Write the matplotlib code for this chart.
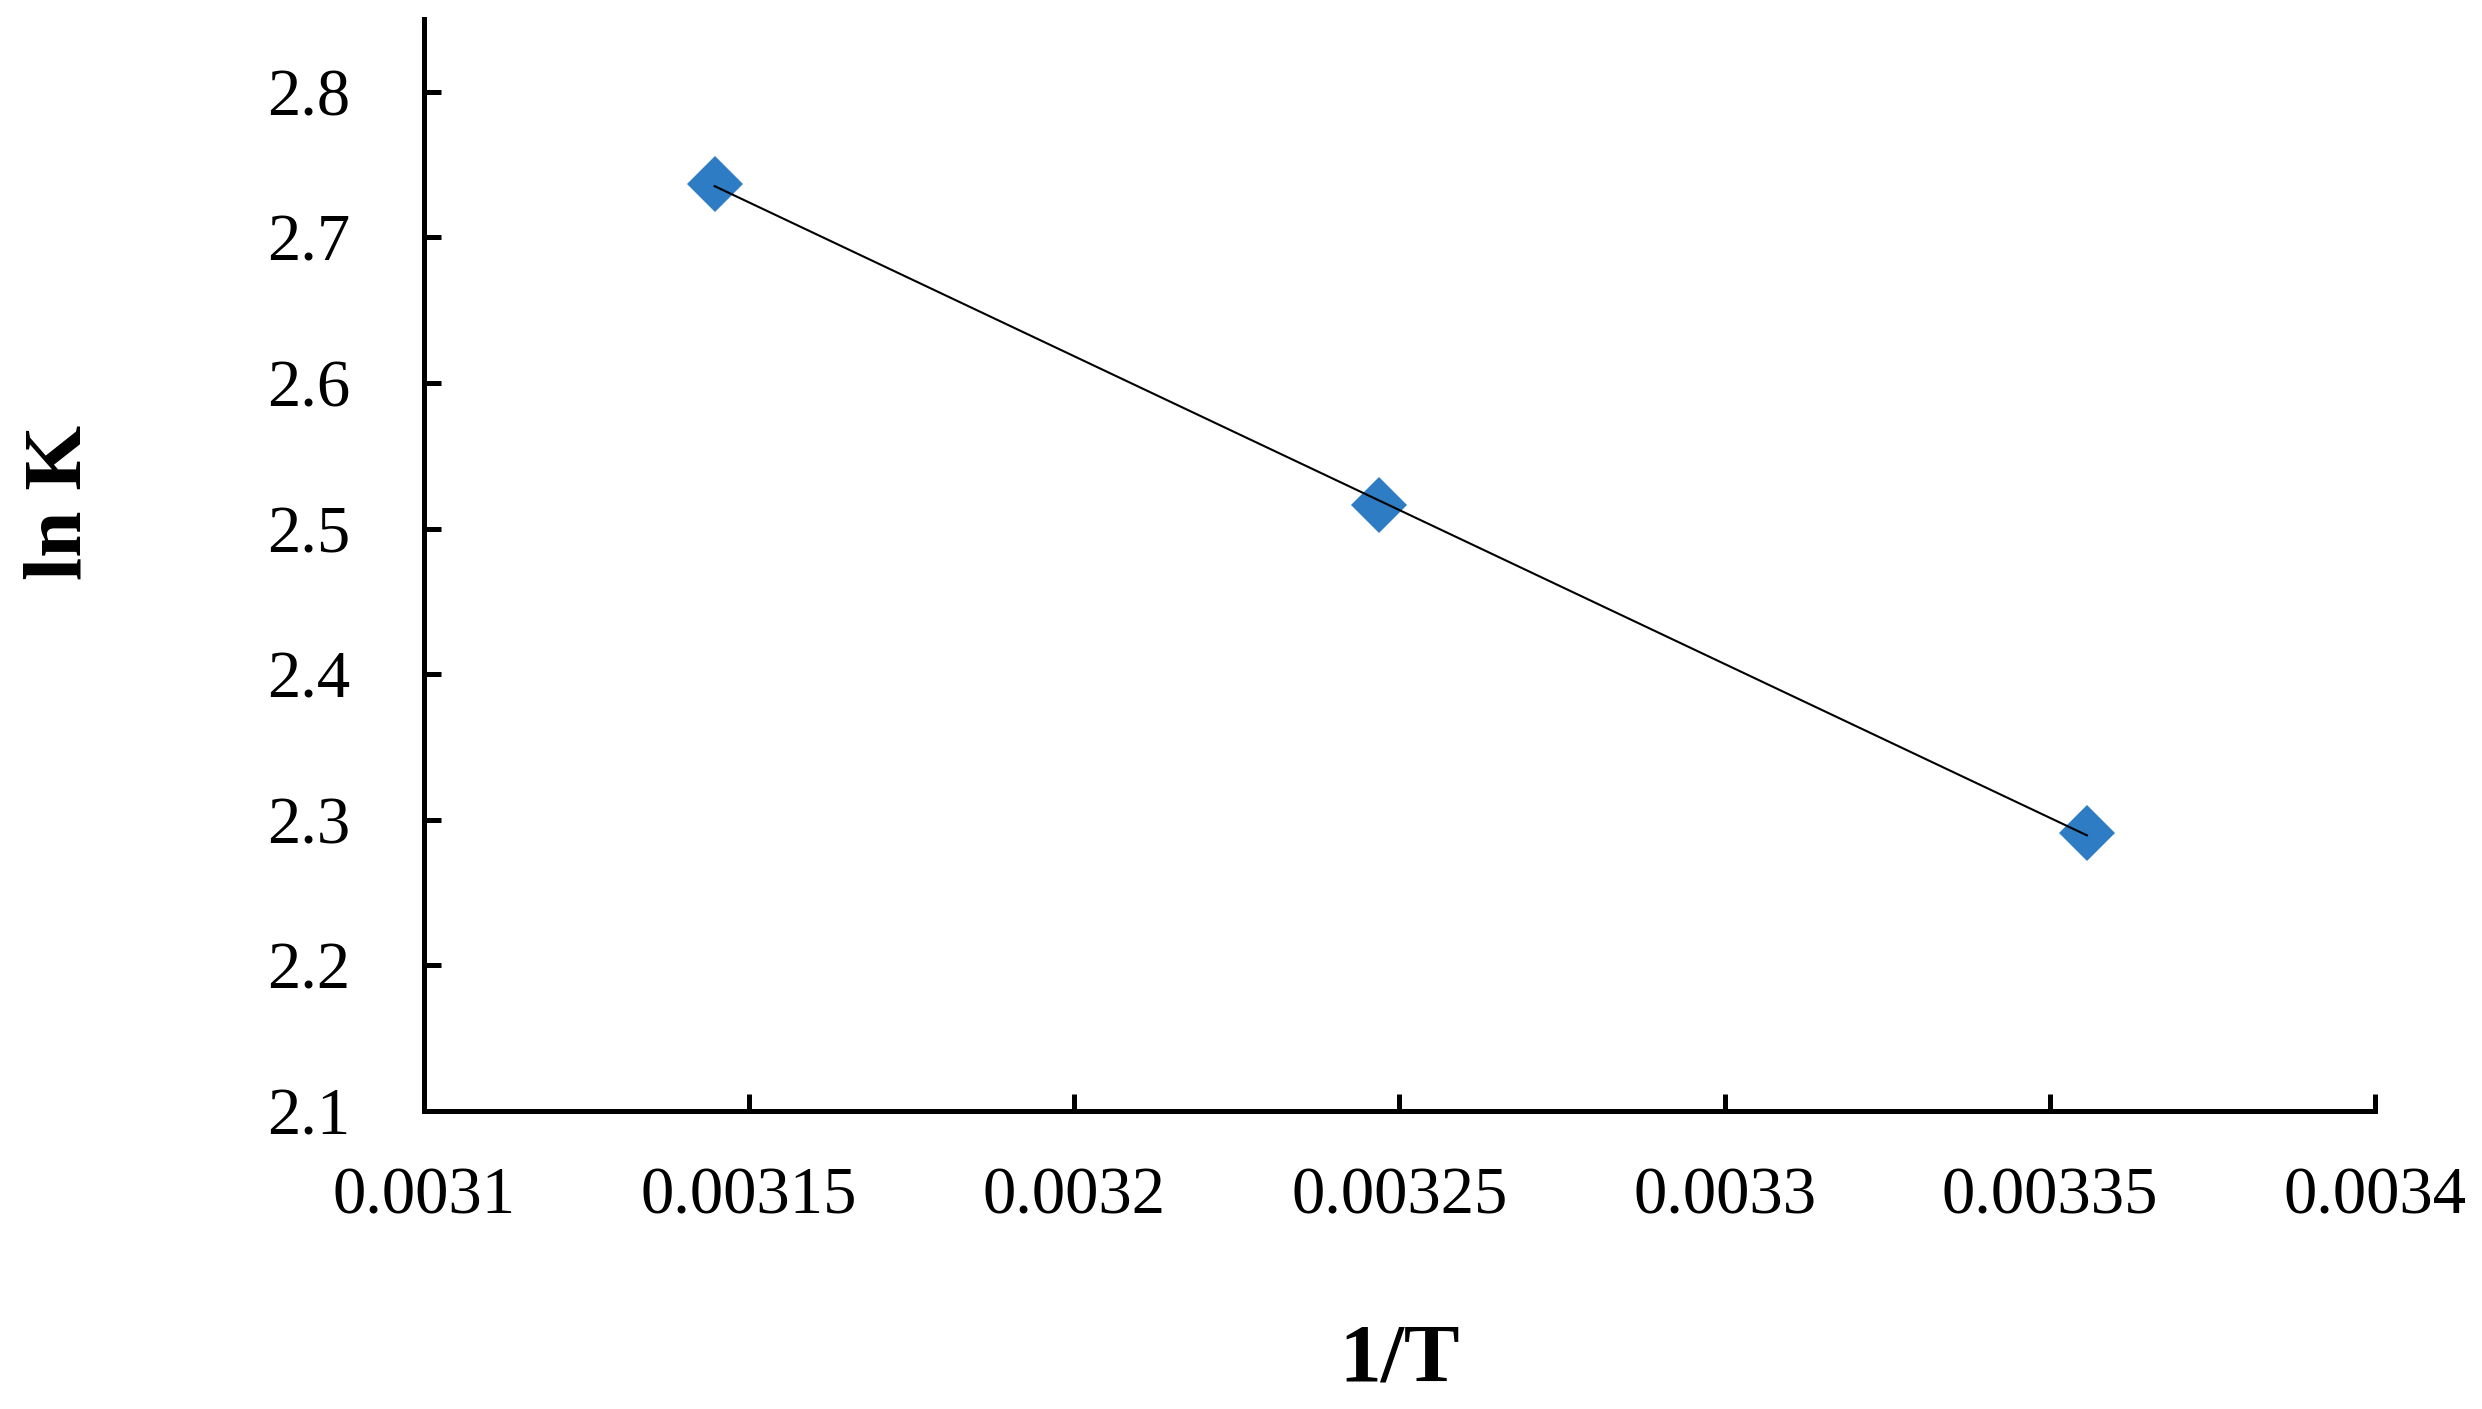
import numpy as np
import matplotlib
matplotlib.use('Agg')
import matplotlib.pyplot as plt
from matplotlib.ticker import FuncFormatter

# data
inv_T = [0.0031447, 0.0032468, 0.0033557]
ln_K = [2.737, 2.516, 2.291]

x_ticks = [0.0031, 0.00315, 0.0032, 0.00325, 0.0033, 0.00335, 0.0034]
y_ticks = [2.1, 2.2, 2.3, 2.4, 2.5, 2.6, 2.7, 2.8]

plt.rcParams['font.family'] = ['Liberation Serif', 'DejaVu Serif']

fig = plt.figure(figsize=(24.82, 14.09), dpi=100)
ax = fig.add_axes([0.1708, 0.2115, 0.7861, 0.775])

# linear trendline over the data range
slope, intercept = np.polyfit(inv_T, ln_K, 1)
xs = np.array([min(inv_T), max(inv_T)])
ax.plot(xs, slope * xs + intercept, color='black', lw=1.5, zorder=3)
ax.plot(inv_T, ln_K, linestyle='none', marker='D', markersize=29,
        color='#2E7CC4', markeredgewidth=0, zorder=2)

ax.set_xlim(0.0031, 0.0034)
ax.set_ylim(2.1, 2.85)
ax.set_xticks(x_ticks)
ax.set_yticks(y_ticks)
ax.xaxis.set_major_formatter(FuncFormatter(lambda v, p: '%g' % round(v, 6)))
ax.yaxis.set_major_formatter(FuncFormatter(lambda v, p: '%.1f' % v))

for s in ['top', 'right']:
    ax.spines[s].set_visible(False)
for s in ['left', 'bottom']:
    ax.spines[s].set_linewidth(3.6)

ax.tick_params(axis='both', direction='in', length=12, width=3.6, labelsize=48)
ax.tick_params(axis='x', pad=40)
ax.tick_params(axis='y', pad=53)

ax.set_xlabel('1/T', fontsize=60, fontweight='bold', va='center')
ax.set_ylabel('ln K', fontsize=60, fontweight='bold', va='center')
ax.xaxis.set_label_coords(0.5, -0.229)
ax.yaxis.set_label_coords(-0.186, 0.557)

fig.savefig('out.png', dpi=100)
